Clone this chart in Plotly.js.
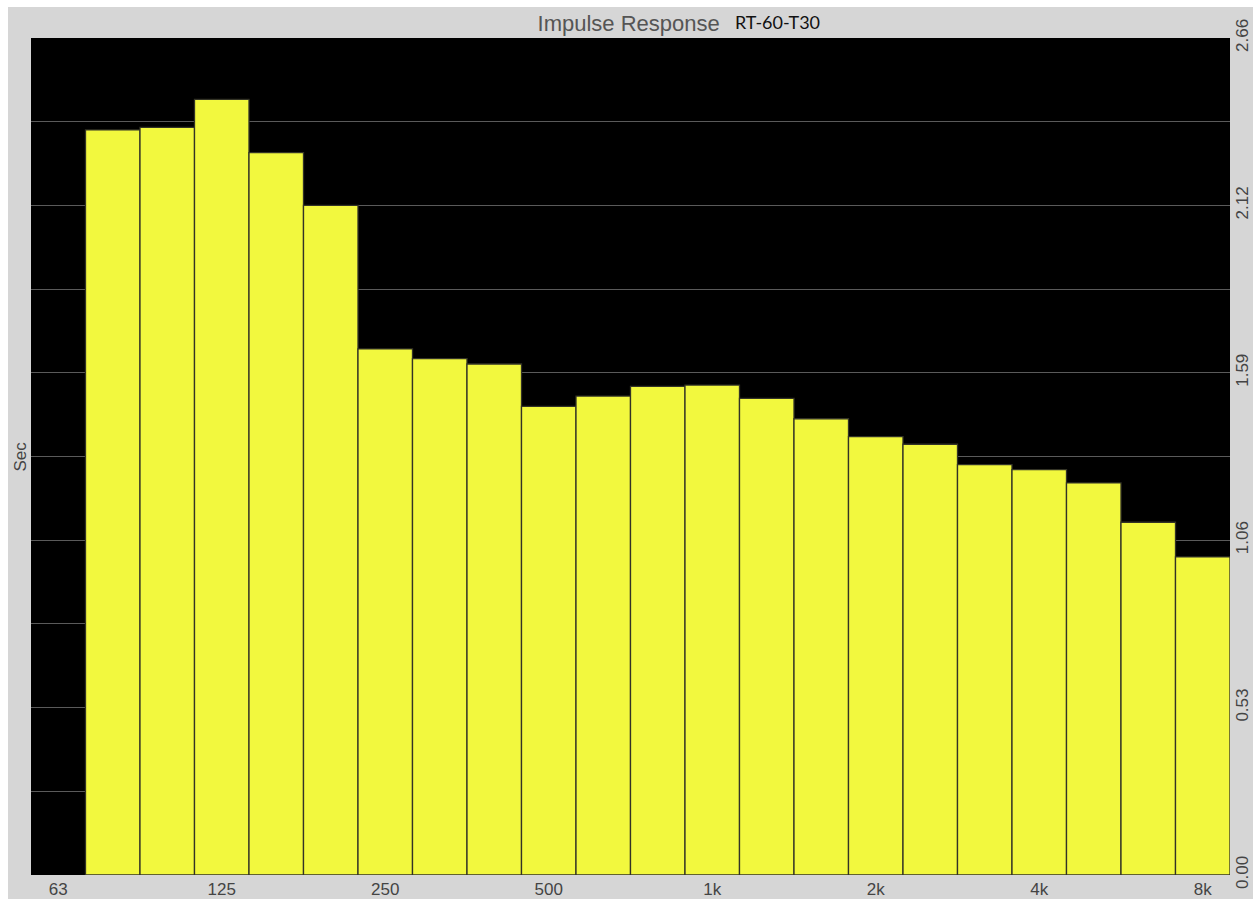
<!DOCTYPE html>
<html>
<head>
<meta charset="utf-8">
<script src="https://cdn.plot.ly/plotly-3.0.1.min.js"></script>
<style>
  html, body { margin: 0; padding: 0; background: #ffffff; width: 1253px; height: 899px; overflow: hidden; }
  #chart { position: absolute; left: 8px; top: 7px; width: 1245px; height: 892px; }
</style>
</head>
<body>
<div id="chart"></div>
<script>
// 1/3-octave band centres (63 Hz slot is empty)
const bands = ["63","80","100","125","160","200","250","315","400","500","630","800",
               "1k","1.25k","1.6k","2k","2.5k","3.15k","4k","5k","6.3k","8k"];
// RT-60 (T30) in seconds
const rt60 = [null, 2.368, 2.376, 2.465, 2.296, 2.128, 1.672, 1.641, 1.624, 1.489, 1.522,
              1.553, 1.557, 1.515, 1.450, 1.393, 1.369, 1.304, 1.288, 1.246, 1.121, 1.011];
// Labelled octave ticks on the frequency axis
const xTickLabels = ["63","125","250","500","1k","2k","4k","8k"];
// Seconds axis: grid every 0.266 s, labels every 0.532 s
const yTickVals = [0, 0.266, 0.532, 0.798, 1.064, 1.33, 1.596, 1.862, 2.128, 2.394, 2.66];
const yTickText = ["0.00", "", "0.53", "", "1.06", "", "1.59", "", "2.12", "", "2.66"];
const yMax = 2.66;

const trace = {
  type: "bar",
  x: bands,
  y: rt60,
  marker: { color: "#f2f83e", line: { color: "#333326", width: 1.3 } },
  hoverinfo: "x+y"
};

const layout = {
  width: 1245,
  height: 892,
  paper_bgcolor: "#d6d6d6",
  plot_bgcolor: "#000000",
  margin: { l: 23, r: 23, t: 31, b: 24, pad: 0 },
  bargap: 0,
  showlegend: false,
  title: {
    text: "Impulse Response",
    font: { family: "Liberation Sans, Arial, sans-serif", size: 22, color: "#555555" },
    xref: "paper", x: 0.4225, xanchor: "left",
    yref: "container", y: 1 - 16 / 892, yanchor: "middle"
  },
  xaxis: {
    type: "category",
    categoryorder: "array",
    categoryarray: bands,
    tickmode: "array",
    tickvals: xTickLabels,
    ticktext: xTickLabels,
    ticks: "",
    ticklabelstandoff: 2,
    showgrid: false,
    zeroline: false,
    showline: false,
    tickfont: { family: "Liberation Sans, Arial, sans-serif", size: 17, color: "#444444" },
    fixedrange: true
  },
  yaxis: {
    side: "right",
    range: [0, yMax],
    tickmode: "array",
    tickvals: yTickVals,
    ticktext: yTickText,
    tickangle: -90,
    ticks: "",
    showgrid: true,
    gridcolor: "#5a5a5a",
    gridwidth: 1,
    zeroline: false,
    showline: false,
    tickfont: { family: "Liberation Sans, Arial, sans-serif", size: 17, color: "#444444" },
    fixedrange: true
  },
  annotations: [
    {
      text: "RT-60-T30",
      xref: "paper", x: 0.5855, xanchor: "left",
      yref: "paper", y: 1 + 16 / 837, yanchor: "middle",
      showarrow: false,
      font: { family: "Lato, Open Sans, sans-serif", size: 18, color: "#111111" }
    },
    {
      text: "Sec",
      xref: "paper", x: -11 / 1199, xanchor: "center",
      yref: "paper", y: 0.5, yanchor: "middle",
      textangle: -90,
      showarrow: false,
      font: { family: "Liberation Sans, Arial, sans-serif", size: 17, color: "#444444" }
    }
  ]
};

Plotly.newPlot("chart", [trace], layout, { displayModeBar: false, staticPlot: true });
</script>
</body>
</html>
